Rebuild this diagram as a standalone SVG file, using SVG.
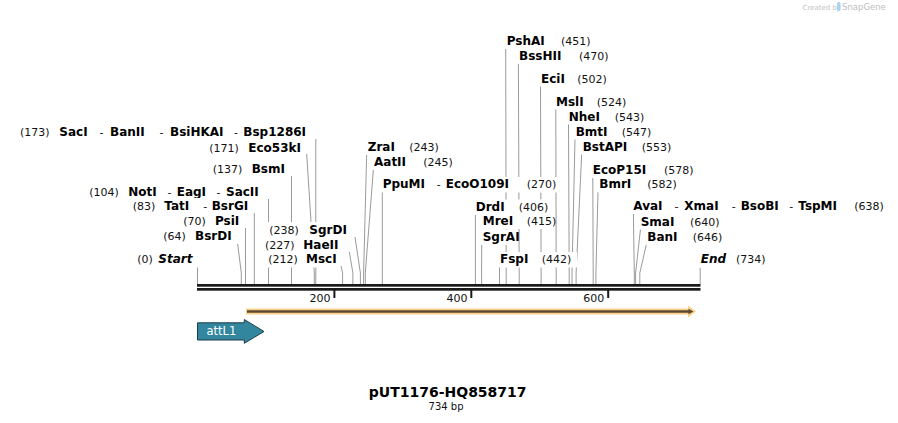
<svg xmlns="http://www.w3.org/2000/svg" width="898" height="423" viewBox="0 0 898 423">
<style>
.n{font-family:"DejaVu Sans",Verdana,sans-serif;font-weight:bold;font-size:12px;fill:#000}
.i{font-style:italic}
.p{font-family:"DejaVu Sans",Verdana,sans-serif;font-size:11px;fill:#111}
.bg{fill:#fff}
.ln{stroke:#9a9a9a;stroke-width:1;fill:none}
.tk{font-family:"DejaVu Sans",Verdana,sans-serif;font-size:11px;fill:#111;text-anchor:end}
</style>
<rect width="898" height="423" fill="#fff"/>
<g id="watermark">
<text x="802.5" y="10" style="font-family:'DejaVu Sans',sans-serif;font-size:7px;fill:#c4c4c4">Created by</text>
<rect x="837" y="2" width="3.5" height="9" rx="1.5" fill="#a9d3ee"/>
<text x="842" y="10" style="font-family:'DejaVu Sans',sans-serif;font-size:8.5px;fill:#bdbdbd">SnapGene</text>
</g>
<g id="connectors">
<polyline class="ln" points="197.5,267.5 197.5,284"/>
<polyline class="ln" points="237.7,244 241.3,273 241.3,284"/>
<polyline class="ln" points="245.5,228 245.5,284"/>
<polyline class="ln" points="254.3,213 254.3,284"/>
<polyline class="ln" points="268.5,199 268.5,284"/>
<polyline class="ln" points="291.5,176 291.5,284"/>
<polyline class="ln" points="306.7,154 314.3,273 314.3,284"/>
<polyline class="ln" points="315.8,139 315.8,284"/>
<polyline class="ln" points="341,266 342.6,273 342.6,284"/>
<polyline class="ln" points="349.3,252 352.9,273 352.9,284"/>
<polyline class="ln" points="355,237 360.4,273 360.4,284"/>
<polyline class="ln" points="366.7,153 363.6,273 363.6,284"/>
<polyline class="ln" points="373.5,168 365.3,273 365.3,284"/>
<polyline class="ln" points="382.3,192 382.3,284"/>
<polyline class="ln" points="475.4,214 475.4,284"/>
<polyline class="ln" points="481.7,244 481.6,273 481.6,284"/>
<polyline class="ln" points="499.5,267 499.5,284"/>
<polyline class="ln" points="505.7,48 506.2,273 506.2,284"/>
<polyline class="ln" points="518.4,63 519.2,273 519.2,284"/>
<polyline class="ln" points="540.5,86 541.1,273 541.1,284"/>
<polyline class="ln" points="555.8,109 556.2,273 556.2,284"/>
<polyline class="ln" points="568.5,124 569.2,273 569.2,284"/>
<polyline class="ln" points="575,139 572,273 572,284"/>
<polyline class="ln" points="581.7,154 576.1,273 576.1,284"/>
<polyline class="ln" points="592.8,177 593.2,273 593.2,284"/>
<polyline class="ln" points="598,192 595.9,273 595.9,284"/>
<polyline class="ln" points="633.4,214 634.3,273 634.3,284"/>
<polyline class="ln" points="640.5,229 635.6,273 635.6,284"/>
<polyline class="ln" points="646.5,244 639.8,273 639.8,284"/>
<polyline class="ln" points="700.2,267.5 700.2,284"/>
</g>
<g id="backbone">
<rect x="197" y="284" width="503.5" height="2.7" fill="#1a1a1a"/>
<rect x="197" y="288" width="503.5" height="2.7" fill="#1a1a1a"/>
<rect x="333.4" y="290" width="2" height="8" fill="#1a1a1a"/>
<rect x="470.3" y="290" width="2" height="8" fill="#1a1a1a"/>
<rect x="607.2" y="290" width="2" height="8" fill="#1a1a1a"/>
<text class="tk" x="330.5" y="301.5">200</text>
<text class="tk" x="467.4" y="301.5">400</text>
<text class="tk" x="604.3" y="301.5">600</text>
</g>
<g id="orf">
<path d="M246,308.5 H688 V305.5 L696,311.5 L688,317.5 V314.5 H246 Z" fill="#fcd18b"/>
<line x1="247" y1="311.5" x2="689" y2="311.5" stroke="#5e4a33" stroke-width="2.4"/>
<path d="M688.5,308.8 L693.5,311.5 L688.5,314.2 Z" fill="#5e4a33"/>
</g>
<g id="attL1">
<path d="M197.5,322.8 H244.3 V319.5 L264,331.5 L244.3,343.3 V340 H197.5 Z" fill="#32869e" stroke="#1d3d48" stroke-width="1"/>
<text x="206.5" y="335.3" style="font-family:'DejaVu Sans',sans-serif;font-size:11.5px;fill:#fff">attL1</text>
</g>
<g id="L1"><rect class="bg" x="18" y="124.5" width="292" height="15.5"/>
<text class="p" x="20" y="136">(173)</text><text class="n" x="59.3" y="136">SacI</text><text class="p" x="99.5" y="136">-</text><text class="n" x="110" y="136">BanII</text><text class="p" x="159.5" y="136">-</text><text class="n" x="170" y="136">BsiHKAI</text><text class="p" x="234" y="136">-</text><text class="n" x="243.3" y="136">Bsp1286I</text></g>
<g id="L2"><rect class="bg" x="207" y="140" width="98" height="15.5"/>
<text class="p" x="209.3" y="151.5">(171)</text><text class="n" x="248.3" y="151.5">Eco53kI</text></g>
<g id="L3"><rect class="bg" x="211" y="162" width="77" height="15.5"/>
<text class="p" x="212.7" y="173.3">(137)</text><text class="n" x="251.7" y="173.3">BsmI</text></g>
<g id="L4"><rect class="bg" x="87" y="184.5" width="176" height="15.5"/>
<text class="p" x="89.3" y="196">(104)</text><text class="n" x="128.3" y="196">NotI</text><text class="p" x="167.5" y="196">-</text><text class="n" x="176.7" y="196">EagI</text><text class="p" x="216.5" y="196">-</text><text class="n" x="226" y="196">SacII</text></g>
<g id="L5"><rect class="bg" x="131" y="198" width="120" height="15.5"/>
<text class="p" x="132.7" y="209.5">(83)</text><text class="n" x="164.3" y="209.5">TatI</text><text class="p" x="203.3" y="209.5">-</text><text class="n" x="211.7" y="209.5">BsrGI</text></g>
<g id="L6"><rect class="bg" x="181" y="213.5" width="61" height="15.5"/>
<text class="p" x="183.3" y="225">(70)</text><text class="n" x="215" y="225">PsiI</text></g>
<g id="L7"><rect class="bg" x="161" y="228.5" width="74" height="15.5"/>
<text class="p" x="163.3" y="240">(64)</text><text class="n" x="195" y="240">BsrDI</text></g>
<g id="L8"><rect class="bg" x="135" y="252" width="58" height="15.5"/>
<text class="p" x="137.3" y="263.3">(0)</text><text class="n i" x="158.3" y="263.3">Start</text></g>
<g id="L9"><rect class="bg" x="267" y="222" width="81" height="15.5"/>
<text class="p" x="269.3" y="233.5">(238)</text><text class="n" x="309.3" y="233.5">SgrDI</text></g>
<g id="L10"><rect class="bg" x="263" y="237" width="80" height="15.5"/>
<text class="p" x="265" y="248.5">(227)</text><text class="n" x="303.3" y="248.5">HaeII</text></g>
<g id="L11"><rect class="bg" x="266" y="252" width="72" height="15.5"/>
<text class="p" x="268.3" y="263.3">(212)</text><text class="n" x="306" y="263.3">MscI</text></g>
<g id="R1"><rect class="bg" x="366" y="139.5" width="75" height="15.5"/>
<text class="n" x="367.7" y="150.7">ZraI</text><text class="p" x="409.3" y="150.7">(243)</text></g>
<g id="R2"><rect class="bg" x="372" y="154.5" width="83" height="15.5"/>
<text class="n" x="374" y="166">AatII</text><text class="p" x="423.3" y="166">(245)</text></g>
<g id="R3"><rect class="bg" x="381" y="177" width="177" height="15.5"/>
<text class="n" x="382.7" y="188.3">PpuMI</text><text class="p" x="436.7" y="188.3">-</text><text class="n" x="445.7" y="188.3">EcoO109I</text><text class="p" x="526.7" y="188.3">(270)</text></g>
<g id="R4"><rect class="bg" x="474" y="199.5" width="76" height="15.5"/>
<text class="n" x="475.7" y="210.7">DrdI</text><text class="p" x="518.7" y="210.7">(406)</text></g>
<g id="R5"><rect class="bg" x="481" y="213.5" width="74" height="15.5"/>
<text class="n" x="482.7" y="225">MreI</text><text class="p" x="526.7" y="225">(415)</text></g>
<g id="R6"><rect class="bg" x="481" y="229.5" width="36" height="15.5"/>
<text class="n" x="482.7" y="240.7">SgrAI</text></g>
<g id="R7"><rect class="bg" x="499" y="252" width="78" height="15.5"/>
<text class="n" x="500" y="263.3">FspI</text><text class="p" x="541.7" y="263.3">(442)</text></g>
<g id="R8"><rect class="bg" x="505" y="33.5" width="87" height="15.5"/>
<text class="n" x="506.7" y="45">PshAI</text><text class="p" x="561" y="45">(451)</text></g>
<g id="R9"><rect class="bg" x="518" y="48.5" width="92" height="15.5"/>
<text class="n" x="519" y="60">BssHII</text><text class="p" x="579" y="60">(470)</text></g>
<g id="R10"><rect class="bg" x="540" y="71" width="68" height="15.5"/>
<text class="n" x="541" y="82.7">EciI</text><text class="p" x="577.3" y="82.7">(502)</text></g>
<g id="R11"><rect class="bg" x="555" y="94" width="72" height="15.5"/>
<text class="n" x="556" y="105.7">MslI</text><text class="p" x="596.7" y="105.7">(524)</text></g>
<g id="R12"><rect class="bg" x="567" y="109" width="78" height="15.5"/>
<text class="n" x="568.7" y="120.7">NheI</text><text class="p" x="614.7" y="120.7">(543)</text></g>
<g id="R13"><rect class="bg" x="574" y="124" width="78" height="15.5"/>
<text class="n" x="575.7" y="135.7">BmtI</text><text class="p" x="621.7" y="135.7">(547)</text></g>
<g id="R14"><rect class="bg" x="581" y="139" width="91" height="15.5"/>
<text class="n" x="582.7" y="150.7">BstAPI</text><text class="p" x="641.7" y="150.7">(553)</text></g>
<g id="R15"><rect class="bg" x="591" y="162.5" width="103" height="15.5"/>
<text class="n" x="592.7" y="174">EcoP15I</text><text class="p" x="664" y="174">(578)</text></g>
<g id="R16"><rect class="bg" x="598" y="177" width="80" height="15.5"/>
<text class="n" x="599.3" y="188.3">BmrI</text><text class="p" x="647.3" y="188.3">(582)</text></g>
<g id="R17"><rect class="bg" x="632" y="198.5" width="240" height="15.5"/>
<text class="n" x="633.3" y="210">AvaI</text><text class="p" x="674.5" y="210">-</text><text class="n" x="684.3" y="210">XmaI</text><text class="p" x="731.7" y="210">-</text><text class="n" x="740.7" y="210">BsoBI</text><text class="p" x="789.3" y="210">-</text><text class="n" x="798.3" y="210">TspMI</text><text class="p" x="854.3" y="210">(638)</text></g>
<g id="R18"><rect class="bg" x="639" y="214" width="81" height="15.5"/>
<text class="n" x="640.7" y="225.7">SmaI</text><text class="p" x="690" y="225.7">(640)</text></g>
<g id="R19"><rect class="bg" x="646" y="229.5" width="77" height="15.5"/>
<text class="n" x="647.3" y="241">BanI</text><text class="p" x="692.7" y="241">(646)</text></g>
<g id="R20"><rect class="bg" x="699" y="252" width="68" height="15.5"/>
<text class="n i" x="700.7" y="263.3">End</text><text class="p" x="736" y="263.3">(734)</text></g>
<g id="title">
<text x="447.7" y="397" text-anchor="middle" style="font-family:'DejaVu Sans',Verdana,sans-serif;font-weight:bold;font-size:14px;fill:#000">pUT1176-HQ858717</text>
<text x="446" y="410" text-anchor="middle" style="font-family:'DejaVu Sans',Verdana,sans-serif;font-size:10px;fill:#111">734 bp</text>
</g>
</svg>
